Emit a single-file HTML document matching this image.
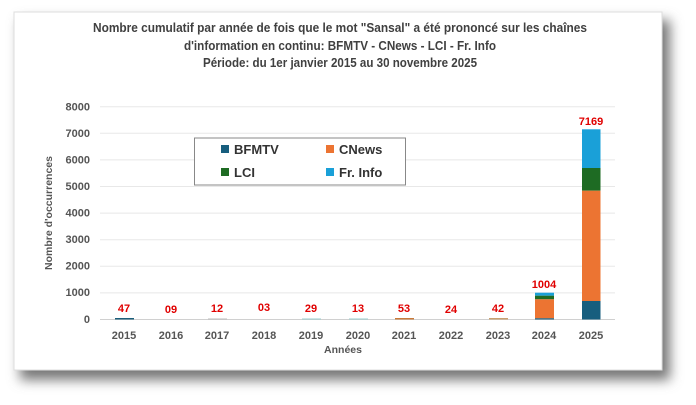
<!DOCTYPE html>
<html><head><meta charset="utf-8"><style>
body{margin:0;background:#fff;width:696px;height:405px;overflow:hidden}
svg{display:block;font-family:"Liberation Sans",sans-serif}
</style></head><body>
<svg width="696" height="405" viewBox="0 0 696 405">
<defs><filter id="sh" x="-10%" y="-10%" width="125%" height="130%"><feGaussianBlur stdDeviation="6"/></filter></defs>
<rect x="20" y="20" width="650" height="360" fill="#777" filter="url(#sh)"/>
<rect x="14" y="12" width="648" height="358" fill="#fff" stroke="#ddd"/>
<g font-weight="bold" fill="#404040" font-size="12.5" text-anchor="middle">
<text x="340" y="32" textLength="494" lengthAdjust="spacingAndGlyphs">Nombre cumulatif par année de fois que le mot "Sansal" a été prononcé sur les chaînes</text>
<text x="340" y="50" textLength="312" lengthAdjust="spacingAndGlyphs">d'information en continu: BFMTV - CNews - LCI - Fr. Info</text>
<text x="340" y="67" textLength="274" lengthAdjust="spacingAndGlyphs">Période: du 1er janvier 2015 au 30 novembre 2025</text>
</g>
<g stroke="#e8e8e8" stroke-width="1">
<line x1="100" x2="615" y1="106.7" y2="106.7"/><line x1="100" x2="615" y1="133.3" y2="133.3"/>
<line x1="100" x2="615" y1="159.9" y2="159.9"/><line x1="100" x2="615" y1="186.5" y2="186.5"/>
<line x1="100" x2="615" y1="213.1" y2="213.1"/><line x1="100" x2="615" y1="239.7" y2="239.7"/>
<line x1="100" x2="615" y1="266.3" y2="266.3"/><line x1="100" x2="615" y1="292.9" y2="292.9"/>
</g>
<line x1="100" x2="615" y1="319.5" y2="319.5" stroke="#d0d0d0"/>
<g font-size="11" font-weight="bold" fill="#555" text-anchor="end">
<text x="90" y="110.5">8000</text><text x="90" y="137">7000</text><text x="90" y="163.5">6000</text>
<text x="90" y="190">5000</text><text x="90" y="216.5">4000</text><text x="90" y="243">3000</text>
<text x="90" y="269.5">2000</text><text x="90" y="296">1000</text><text x="90" y="323">0</text>
</g>
<text transform="translate(52,213) rotate(-90)" font-size="10.5" font-weight="bold" fill="#555" text-anchor="middle">Nombre d'occurrences</text>
<g font-size="11" font-weight="bold" fill="#555" text-anchor="middle">
<text x="124" y="339">2015</text><text x="171" y="339">2016</text><text x="217" y="339">2017</text>
<text x="264" y="339">2018</text><text x="311" y="339">2019</text><text x="358" y="339">2020</text>
<text x="404" y="339">2021</text><text x="451" y="339">2022</text><text x="498" y="339">2023</text>
<text x="544" y="339">2024</text><text x="591" y="339">2025</text>
<text x="343" y="353" font-size="10.5">Années</text>
</g>
<g font-size="11" font-weight="bold" fill="#e00000" text-anchor="middle">
<text x="124" y="312">47</text><text x="171" y="313">09</text><text x="217" y="312">12</text>
<text x="264" y="311">03</text><text x="311" y="312">29</text><text x="358" y="312">13</text>
<text x="404" y="312">53</text><text x="451" y="313">24</text><text x="498" y="312">42</text>
<text x="544" y="288">1004</text><text x="591" y="125">7169</text>
</g>
<g>
<rect x="115" y="318" width="19" height="1.5" fill="#1a5e7a"/>
<rect x="208" y="318.5" width="19" height="1" fill="#bbb"/>
<rect x="302" y="318.5" width="19" height="1" fill="#9cc"/>
<rect x="349" y="318.5" width="19" height="1" fill="#9cc"/>
<rect x="395" y="318" width="19" height="1.5" fill="#c87a3a"/>
<rect x="489" y="318" width="19" height="1.5" fill="#c8a070"/>
<rect x="535" y="292.7" width="19" height="3" fill="#1aa0d8"/>
<rect x="535" y="295.7" width="19" height="3.6" fill="#1e6b23"/>
<rect x="535" y="299.3" width="19" height="19" fill="#ec7432"/>
<rect x="535" y="318.3" width="19" height="1.2" fill="#175e7e"/>
<rect x="582" y="129.3" width="18.5" height="38.7" fill="#1aa0d8"/>
<rect x="582" y="168" width="18.5" height="22.7" fill="#1e6b23"/>
<rect x="582" y="190.7" width="18.5" height="110.3" fill="#ec7432"/>
<rect x="582" y="301" width="18.5" height="18.5" fill="#175e7e"/>
</g>
<rect x="194.5" y="138" width="211" height="47" fill="#fff" stroke="#888"/>
<g font-size="13" font-weight="bold" fill="#333">
<rect x="221" y="145" width="8" height="8" fill="#175e7e"/><text x="234" y="154">BFMTV</text>
<rect x="326" y="145" width="8" height="8" fill="#ec7432"/><text x="339" y="154">CNews</text>
<rect x="221" y="168" width="8" height="8" fill="#1e6b23"/><text x="234" y="177">LCI</text>
<rect x="326" y="168" width="8" height="8" fill="#1aa0d8"/><text x="339" y="177">Fr. Info</text>
</g>
</svg>
</body></html>
